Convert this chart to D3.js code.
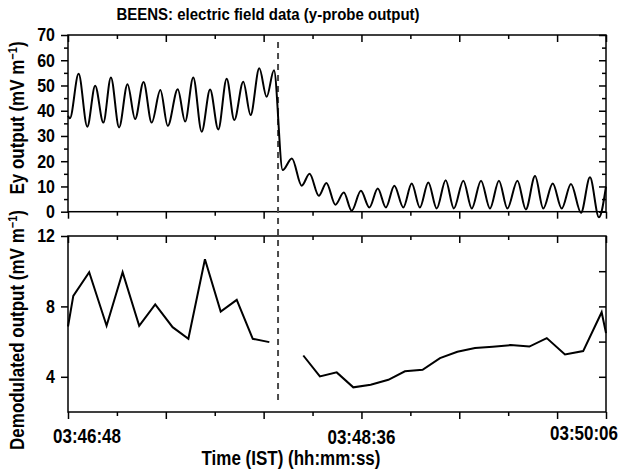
<!DOCTYPE html>
<html><head><meta charset="utf-8">
<script src="https://cdn.jsdelivr.net/npm/d3@7"></script>
<style>
body{margin:0;background:#fff}
svg{display:block;font-family:"Liberation Sans",Arial,sans-serif;font-weight:bold}
</style>
</head><body>
<svg id="chart" width="620" height="470"></svg>
<script>
// ---- data (time in seconds after 03:46:48 IST) ----
const titleText = "BEENS: electric field data (y-probe output)";
const xTickLabels = ["03:46:48", "03:48:36", "03:50:06"];
const xTickLabelSeconds = [0, 108, 198];
const xMajorSeconds = [0, 36, 72, 108, 144, 180, 198];
const xMinorSeconds = [18, 54, 90, 126, 162];
const eventSecond = 77.3;

const eyTime = [0, 0.7, 3.9, 7.1, 10.0, 13.0, 15.8, 18.8, 21.9, 24.7, 27.8, 30.8, 34.0, 36.7, 40.4, 43.1, 46.1, 49.2, 52.3, 55.3, 58.4, 61.2, 64.5, 67.2, 70.4, 73.1, 75.8,
  79.0, 82.4, 86.0, 88.9, 92.3, 95.1, 98.4, 101.5, 104.4, 107.8, 110.9, 114.0, 117.0, 120.1, 123.4, 126.5, 129.5, 132.6, 135.7, 139.0, 142.0, 145.5, 148.6, 152.0, 155.3, 158.6, 161.7, 165.4, 168.5, 171.9, 174.9, 178.4, 181.7, 185.1, 188.8, 192.1, 195.4, 198];
const eyValue = [38, 37, 54.6, 33.7, 49.9, 35.3, 53.2, 33.4, 50.5, 36.7, 51.4, 35.3, 48.2, 34.0, 48.5, 35.7, 53.2, 31.7, 48.4, 32.6, 52.7, 36.3, 51.5, 38.3, 56.8, 45.5, 56.0,
  16.5, 21.1, 10.3, 15.0, 6.3, 11.4, 2.8, 7.6, 0.4, 8.3, 1.7, 9.2, 1.7, 10.3, 1.7, 11.2, 1.7, 11.6, 1.3, 12.5, 1.3, 12.3, 1.3, 12.3, 1.3, 12.3, 1.3, 12.3, 0.9, 14.1, 1.3, 11.2, 1.3, 11.0, -0.4, 13.6, -2.2, 9.9];

const demodTime = [0, 1.95, 7.8, 14.2, 20.1, 26.2, 32.1, 38.5, 44.3, 50.4, 56.2, 62.1, 68.0, 74.1, null,
  86.6, 92.7, 98.9, 105.0, 111.4, 117.9, 124.0, 130.5, 136.9, 143.3, 149.8, 156.3, 162.9, 169.8, 176.2, 182.9, 189.6, 196.4, 198];
const demodValue = [6.86, 8.6, 9.94, 6.9, 9.94, 6.9, 8.12, 6.82, 6.16, 10.68, 7.71, 8.37, 6.16, 5.97, null,
  5.21, 4.02, 4.25, 3.40, 3.55, 3.83, 4.31, 4.40, 5.06, 5.42, 5.63, 5.71, 5.80, 5.72, 6.20, 5.27, 5.46, 7.67, 6.48];

const eyTicks = [0, 10, 20, 30, 40, 50, 60, 70];
const eyMinorTicks = [5, 15, 25, 35, 45, 55, 65];
const demodTicks = [4, 8, 12];
const demodRightTicks = [4, 6, 8, 10];

// ---- layout ----
const L = 68, R = 606;
const topPanel = {top: 35, bottom: 211.7};
const botPanel = {top: 236, bottom: 412};
const STRETCH = 1.15;

const svg = d3.select("#chart");
const x = d3.scaleLinear().domain([0, 198]).range([L, R]);
const yTop = d3.scaleLinear().domain([0, 70]).range([topPanel.bottom, topPanel.top]);
const yBot = d3.scaleLinear().domain([2, 12]).range([botPanel.bottom, botPanel.top]);

function styleAxis(g) {
  g.select(".domain").remove();
  g.selectAll("line").attr("stroke", "#000").attr("stroke-width", 1.5);
  g.selectAll("text").attr("fill", "#000").attr("font-weight", "bold")
    .attr("font-size", 16).attr("transform", `scale(1,${STRETCH})`);
  return g;
}
function xTicks(yPos, tickLen, minorLen) {
  svg.append("g").attr("transform", `translate(0,${yPos})`)
    .call(d3.axisBottom(x).tickValues(xMajorSeconds).tickSize(tickLen).tickFormat(""))
    .call(styleAxis);
  svg.append("g").attr("transform", `translate(0,${yPos})`)
    .call(d3.axisBottom(x).tickValues(xMinorSeconds).tickSize(minorLen).tickFormat(""))
    .call(styleAxis);
}
// text placed at (px,py) with a slight vertical stretch
function stretchedText(px, py, size, anchor) {
  return svg.append("text").attr("transform", `translate(${px},${py}) scale(1,${STRETCH})`)
    .attr("text-anchor", anchor).attr("font-size", size);
}

// top panel axes
svg.append("g").attr("transform", `translate(${L},0)`)
  .call(d3.axisLeft(yTop).tickValues(eyTicks).tickSize(7).tickPadding(6))
  .call(styleAxis);
svg.append("g").attr("transform", `translate(${L},0)`)
  .call(d3.axisLeft(yTop).tickValues(eyMinorTicks).tickSize(4).tickFormat(""))
  .call(styleAxis);
svg.append("g").attr("transform", `translate(${R},0)`)
  .call(d3.axisLeft(yTop).tickValues(eyTicks).tickSize(7).tickFormat(""))
  .call(styleAxis);
svg.append("g").attr("transform", `translate(${R},0)`)
  .call(d3.axisLeft(yTop).tickValues(eyMinorTicks).tickSize(4).tickFormat(""))
  .call(styleAxis);
xTicks(topPanel.top, 7, 4);
xTicks(topPanel.bottom, 7, 4);

// bottom panel axes
svg.append("g").attr("transform", `translate(${L},0)`)
  .call(d3.axisLeft(yBot).tickValues(demodTicks).tickSize(7).tickPadding(6))
  .call(styleAxis);
svg.append("g").attr("transform", `translate(${R},0)`)
  .call(d3.axisLeft(yBot).tickValues(demodRightTicks).tickSize(7).tickFormat(""))
  .call(styleAxis);
xTicks(botPanel.top, 7, 4);
xTicks(botPanel.bottom, 7, 4);

// x tick labels
const labelShift = [19, 0, -22];
const labelBase = [443, 444, 440];
xTickLabels.forEach((d, i) => {
  stretchedText(x(xTickLabelSeconds[i]) + labelShift[i], labelBase[i], 17, "middle").text(d);
});

// frames
[topPanel, botPanel].forEach(p => {
  svg.append("rect").attr("x", L).attr("y", p.top).attr("width", R - L).attr("height", p.bottom - p.top)
    .attr("fill", "none").attr("stroke", "#000").attr("stroke-width", 1.5);
});

// event dashed line
svg.append("line").attr("x1", x(eventSecond)).attr("x2", x(eventSecond))
  .attr("y1", 42).attr("y2", 405)
  .attr("stroke", "#4a4a4a").attr("stroke-width", 2).attr("stroke-dasharray", "6,5");

// series
const eyData = eyTime.map((t, i) => ({t, v: eyValue[i]}));
svg.append("path").datum(eyData)
  .attr("fill", "none").attr("stroke", "#000").attr("stroke-width", 2)
  .attr("d", d3.line().x(d => x(d.t)).y(d => yTop(d.v)).curve(d3.curveMonotoneX));

const demodData = demodTime.map((t, i) => ({t, v: demodValue[i]}));
svg.append("path").datum(demodData)
  .attr("fill", "none").attr("stroke", "#000").attr("stroke-width", 2)
  .attr("d", d3.line().defined(d => d.t !== null && d.v !== null).x(d => x(d.t)).y(d => yBot(d.v)));

// titles
stretchedText(268, 20, 15, "middle").text(titleText);
stretchedText(291, 465, 17, "middle").text("Time (IST) (hh:mm:ss)");

function yLabel(cx, cy, main) {
  const t = svg.append("text").attr("transform", `translate(${cx},${cy}) rotate(-90) scale(1,${STRETCH})`)
    .attr("text-anchor", "middle").attr("font-size", 17);
  t.append("tspan").text(main + " (mV m");
  t.append("tspan").attr("font-size", 11).attr("dy", -6).text("\u22121");
  t.append("tspan").attr("dy", 6).text(")");
}
yLabel(24, 118, "Ey output");
yLabel(24, 330, "Demodulated output");
</script>
</body></html>
